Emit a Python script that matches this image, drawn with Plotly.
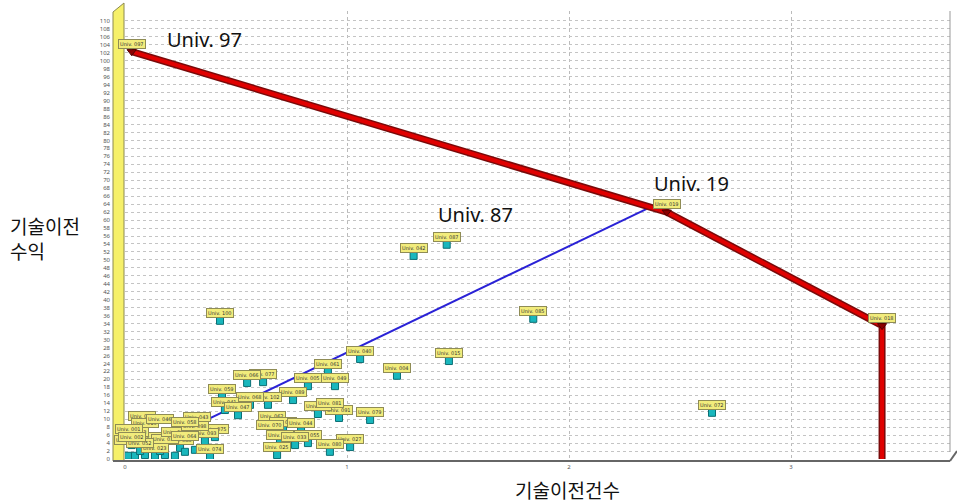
import plotly.graph_objects as go

# ---------------- data ----------------
univ_names = [
    "Univ. 087", "Univ. 042", "Univ. 100", "Univ. 085", "Univ. 015", "Univ. 040",
    "Univ. 004", "Univ. 061", "Univ. 005", "Univ. 049", "Univ. 077", "Univ. 066",
    "Univ. 059", "Univ. 089", "Univ. 102", "Univ. 068", "Univ. 072", "Univ. 079",
    "Univ. 091", "Univ. 034", "Univ. 081", "Univ. 084", "Univ. 062", "Univ. 057",
    "Univ. 044", "Univ. 070", "Univ. 075", "Univ. 035", "Univ. 055", "Univ. 027",
    "Univ. 080", "Univ. 025", "Univ. 074", "Univ. 033", "Univ. 093", "Univ. 101",
    "Univ. 083", "Univ. 011", "Univ. 013", "Univ. 016", "Univ. 023", "Univ. 030",
    "Univ. 038", "Univ. 046", "Univ. 052", "Univ. 064", "Univ. 098", "Univ. 041",
    "Univ. 047", "Univ. 043", "Univ. 058", "Univ. 001", "Univ. 002",
]
tech_count = [
    1.449, 1.30, 0.428, 1.839, 1.459, 1.059,
    1.225, 0.914, 0.824, 0.946, 0.622, 0.550,
    0.437, 0.757, 0.644, 0.563, 2.644, 1.104,
    0.964, 0.869, 0.923, 0.077, 0.662, 0.712,
    0.793, 0.653, 0.405, 0.698, 0.824, 1.014,
    0.923, 0.685, 0.383, 0.766, 0.360, 0.113,
    0.248, 0.014, 0.045, 0.090, 0.135, 0.180,
    0.225, 0.158, 0.068, 0.270, 0.315, 0.450,
    0.509, 0.324, 0.270, 0.020, 0.030,
]
tech_income = [
    53.8, 51.0, 34.7, 35.2, 24.6, 25.1,
    20.9, 21.9, 18.3, 18.3, 19.3, 19.1,
    15.6, 14.8, 13.6, 13.6, 11.6, 9.8,
    10.3, 11.3, 12.1, 8.8, 8.8, 7.3,
    7.0, 6.5, 5.5, 4.0, 4.0, 3.0,
    1.8, 1.0, 0.5, 3.5, 4.5, 3.5,
    2.8, 0.8, 0.8, 1.0, 0.8, 1.0,
    0.8, 2.0, 2.0, 1.8, 2.3, 12.3,
    11.0, 8.5, 7.3, 5.5, 3.5,
]

frontier_names = ["Univ. 097", "Univ. 019", "Univ. 018"]
frontier_x = [0.03, 2.44, 3.41]
frontier_y = [102.3, 62.0, 33.5]
frontier_floor_y = 0.0

ray_x = [0.0, 2.35]
ray_y = [0.0, 62.8]

callout_texts = ["Univ. 97", "Univ. 19", "Univ. 87"]
callout_x = [0.36, 2.55, 1.58]
callout_y = [105.3, 69.3, 61.3]

x_title = "기술이전건수"
y_title = "기술이전<br>수익"

x_ticks = [0, 1, 2, 3]
y_ticks = list(range(0, 112, 2))

# ---------------- figure ----------------
W, H = 957, 504
L, R, T, B = 125, 7, 11, 45
pw, ph = W - L - R, H - T - B


def px2paper(px, py):
    return (px - L) / pw, (H - B - py) / ph


fig = go.Figure()

# blue ray
fig.add_trace(go.Scatter(x=ray_x, y=ray_y, mode="lines",
                         line=dict(color="#2a22d6", width=2), hoverinfo="skip"))

# scatter points (cyan cubes)
fig.add_trace(go.Scatter(x=tech_count, y=tech_income, mode="markers",
                         marker=dict(symbol="square", size=7, color="#19b7bd",
                                     line=dict(color="#0b6f74", width=1)),
                         text=univ_names, hoverinfo="text"))

# frontier (thick red with dark edge)
fx = frontier_x + [frontier_x[-1]]
fy = frontier_y + [frontier_floor_y]
fig.add_trace(go.Scatter(x=fx, y=fy, mode="lines",
                         line=dict(color="#7a0a0a", width=7), hoverinfo="skip"))
fig.add_trace(go.Scatter(x=fx, y=fy, mode="lines",
                         line=dict(color="#e00000", width=4), hoverinfo="skip"))
fig.add_trace(go.Scatter(x=frontier_x, y=frontier_y, mode="markers",
                         marker=dict(symbol="triangle-down", size=8, color="#8b0000",
                                     line=dict(color="#500000", width=1)),
                         text=frontier_names, hoverinfo="text"))

annotations = []
label_style = dict(showarrow=False,
                   font=dict(size=5, color="#333333", family="DejaVu Sans"),
                   bgcolor="#f2ec7c", bordercolor="#8f8c55",
                   borderwidth=1, borderpad=1, xref="x", yref="y")
# labels of the crowded points near the origin are stacked upward (as in the source)
crowd = 0
for n, xv, yv in zip(univ_names, tech_count, tech_income):
    ys = 8
    if xv < 0.33 and yv < 3:
        ys = 8 + 8 * (crowd % 4)
        crowd += 1
    annotations.append(dict(x=xv, y=yv, text=n, yshift=ys, **label_style))
for n, xv, yv in zip(frontier_names, frontier_x, frontier_y):
    annotations.append(dict(x=xv, y=yv, text=n, yshift=8, **label_style))

for t, xv, yv in zip(callout_texts, callout_x, callout_y):
    annotations.append(dict(x=xv, y=yv, text=t, showarrow=False, xref="x", yref="y",
                            font=dict(size=20, color="#111111", family="Noto Sans"),
                            xanchor="center", yanchor="middle"))

ax_, ay_ = px2paper(8, 238)
annotations.append(dict(x=ax_, y=ay_, xref="paper", yref="paper", text=y_title,
                        showarrow=False, align="left", xanchor="left", yanchor="middle",
                        font=dict(size=19, color="#111111", family="Noto Sans CJK KR")))
bx_, by_ = px2paper(567, 489)
annotations.append(dict(x=bx_, y=by_, xref="paper", yref="paper", text=x_title,
                        showarrow=False, xanchor="center", yanchor="middle",
                        font=dict(size=19, color="#111111", family="Noto Sans CJK KR")))

# yellow side wall and frame decoration
wl, wr = px2paper(113, 0)[0], px2paper(124, 0)[0]
yb = px2paper(0, 461)[1]
yt1 = px2paper(0, 12)[1]
yt2 = px2paper(0, 3)[1]
shapes = [
    dict(type="path", xref="paper", yref="paper",
         path=f"M {wl} {yb} L {wl} {yt1} L {wr} {yt2} L {wr} {yb} Z",
         fillcolor="#f6f06a", line=dict(color="#8c8a50", width=1), layer="below"),
    dict(type="line", xref="paper", yref="paper", x0=wl, x1=1.0, y0=yb, y1=yb,
         line=dict(color="#666666", width=2)),
    dict(type="line", xref="paper", yref="paper", x0=1.0, x1=1.0,
         y0=px2paper(0, 452)[1], y1=1.0, line=dict(color="#999999", width=1)),
    dict(type="line", xref="paper", yref="paper", x0=1.0, x1=px2paper(957, 0)[0],
         y0=yb, y1=px2paper(0, 451)[1], line=dict(color="#666666", width=2)),
]

fig.update_layout(
    width=W, height=H,
    margin=dict(l=L, r=R, t=T, b=B, autoexpand=False),
    paper_bgcolor="white", plot_bgcolor="white",
    showlegend=False,
    annotations=annotations,
    shapes=shapes,
    xaxis=dict(range=[0, 3.716], tickvals=x_ticks, ticktext=[str(v) for v in x_ticks],
               tickfont=dict(size=6, color="#555555"), showgrid=True,
               gridcolor="#bbbbbb", griddash="dot", gridwidth=1, zeroline=False,
               showline=False, ticks="", ticklabelstandoff=3, automargin=False),
    yaxis=dict(range=[0, 112.5], tickvals=y_ticks, ticktext=[str(v) for v in y_ticks],
               tickfont=dict(size=6, color="#555555"), showgrid=True,
               gridcolor="#c4c4c4", griddash="dot", gridwidth=1, zeroline=False,
               showline=False, ticks="", ticklabelstandoff=14, automargin=False),
    font=dict(family="Noto Sans"),
)

fig.write_html("out.html", config={"displayModeBar": False},
               post_script="document.body.style.margin='0px';document.body.style.overflow='hidden';")
